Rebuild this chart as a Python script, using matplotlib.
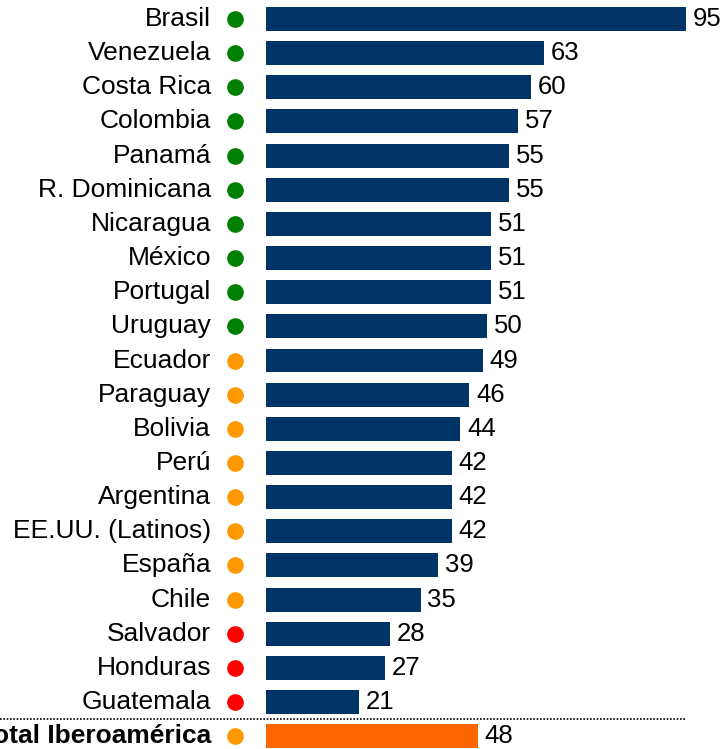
import matplotlib
matplotlib.use("Agg")
import matplotlib.pyplot as plt
from matplotlib.transforms import blended_transform_factory

plt.rcParams['font.family'] = ['Liberation Sans', 'DejaVu Sans']

countries = ["Brasil", "Venezuela", "Costa Rica", "Colombia", "Panamá", "R. Dominicana",
             "Nicaragua", "México", "Portugal", "Uruguay", "Ecuador", "Paraguay", "Bolivia",
             "Perú", "Argentina", "EE.UU. (Latinos)", "España", "Chile", "Salvador",
             "Honduras", "Guatemala", "Total Iberoamérica"]
values = [95, 63, 60, 57, 55, 55, 51, 51, 51, 50, 49, 46, 44, 42, 42, 42, 39, 35, 28, 27, 21, 48]
status = ["g"] * 10 + ["o"] * 8 + ["r"] * 3 + ["o"]

dot_colors = {"g": "#008000", "o": "#FF9900", "r": "#FF0000"}
W, H = 728, 749
fig = plt.figure(figsize=(W / 100, H / 100), dpi=100)
left_px, right_px = 266, 266 + 442
ax = fig.add_axes([left_px / W, 0, (right_px - left_px) / W, 1])
ax.set_xlim(0, 100)
sp = 34.15
ax.set_ylim((H - 19) / sp, -19 / sp)
ax.axis("off")

n = len(countries)
ys = list(range(n))
bar_colors = ["#003366"] * (n - 1) + ["#FF6600"]
ax.barh(ys, values, height=0.7, color=bar_colors, left=0)

trans = blended_transform_factory(ax.transAxes, ax.transData)
for i, (c, v, s) in enumerate(zip(countries, values, status)):
    bold = (i == n - 1)
    ax.text((211 - left_px) / 442, i, c, transform=trans, ha="right", va="center",
            fontsize=19, fontweight="bold" if bold else "normal", clip_on=False)
    ax.plot([(235 - left_px) / 442], [i], "o", color=dot_colors[s], markersize=11,
            transform=trans, clip_on=False)
    ax.text(v + 1.5, i, str(v), ha="left", va="center", fontsize=18.5, clip_on=False)

ax.plot([-left_px / 442, (685 - left_px) / 442], [n - 1.5, n - 1.5], color="black",
        linestyle=(0, (1, 1)), linewidth=1.2, transform=trans, clip_on=False)

fig.savefig("out.png", dpi=100)
